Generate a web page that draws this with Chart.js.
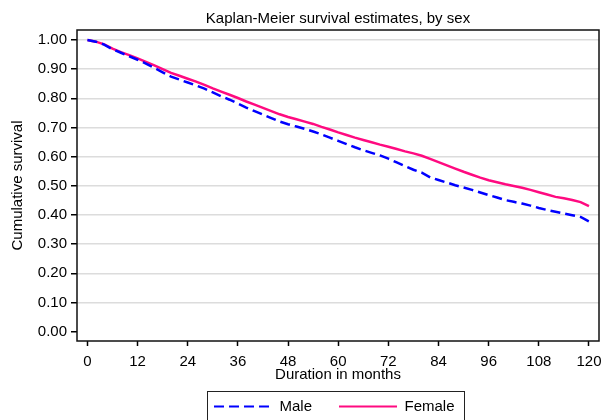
<!DOCTYPE html>
<html>
<head>
<meta charset="utf-8">
<script src="https://cdn.jsdelivr.net/npm/chart.js@4/dist/chart.umd.min.js"></script>
<style>
html,body{margin:0;padding:0;overflow:hidden;background:#fff}
#wrap{width:615px;height:420px}
</style>
</head>
<body>
<div id="wrap"><canvas id="c" width="615" height="420"></canvas></div>
<script>
// Duration (months) at which survival was read
const months = [0,2,4,6,8,10,12,14,16,18,20,22,24,26,28,30,32,34,36,38,40,
  42,44,46,48,50,52,54,56,58,60,62,64,66,68,70,72,74,76,78,80,
  82,84,86,88,90,92,94,96,98,100,102,104,106,108,110,112,114,116,118,120];

// Kaplan-Meier survival estimates
const male = [1.000,0.994,0.984,0.968,0.956,0.944,0.932,0.919,0.904,0.889,0.874,
  0.864,0.854,0.844,0.833,0.820,0.807,0.795,0.782,0.768,0.756,
  0.744,0.732,0.720,0.711,0.703,0.695,0.686,0.676,0.665,0.654,
  0.643,0.632,0.622,0.613,0.604,0.593,0.580,0.567,0.555,0.545,
  0.529,0.520,0.511,0.502,0.494,0.486,0.477,0.468,0.460,0.451,
  0.445,0.439,0.432,0.424,0.417,0.411,0.405,0.399,0.393,0.378];

const female = [1.000,0.994,0.985,0.970,0.958,0.948,0.937,0.925,0.913,0.900,0.887,
  0.877,0.867,0.857,0.846,0.834,0.823,0.812,0.801,0.789,0.778,
  0.767,0.756,0.745,0.736,0.728,0.720,0.712,0.702,0.693,0.683,
  0.674,0.665,0.657,0.649,0.641,0.634,0.626,0.618,0.611,0.603,
  0.592,0.581,0.570,0.559,0.548,0.538,0.528,0.519,0.512,0.505,
  0.499,0.493,0.486,0.478,0.470,0.462,0.457,0.451,0.444,0.430];

const seriesLabels = ['Male', 'Female'];
const xTicks = [0,12,24,36,48,60,72,84,96,108,120];
const yTicks = [0,0.1,0.2,0.3,0.4,0.5,0.6,0.7,0.8,0.9,1.0];

const FONT = {family: '"Liberation Sans", Arial, Helvetica, sans-serif', size: 15, weight: 'normal'};

const layoutAdjust = {
  id: 'layoutAdjust',
  afterLayout(chart) {
    const ca = chart.chartArea;
    const t = chart.titleBlock;
    if (t) { t.left = ca.left; t.right = ca.right; }
    const lg = chart.legend;
    if (lg) { lg.left = 187; lg.right = 615; lg.top = 372; lg.bottom = 420; }
  }
};

const framePlugin = {
  id: 'frame',
  afterDraw(chart) {
    const {ctx, chartArea: ca} = chart;
    ctx.save();
    ctx.strokeStyle = '#111';
    ctx.lineWidth = 1.5;
    ctx.strokeRect(ca.left, ca.top, ca.right - ca.left, ca.bottom - ca.top);
    const hb = chart.legend && chart.legend.legendHitBoxes;
    if (hb && hb.length) {
      const l = hb[0].left - 7;
      const last = hb[hb.length - 1];
      const r = last.left + last.width + 9;
      const top = hb[0].top - 8;
      ctx.lineWidth = 1;
      ctx.strokeStyle = '#222';
      ctx.strokeRect(Math.round(l) + 0.5, Math.round(top) + 0.5, Math.round(r - l), 60);
    }
    ctx.restore();
  }
};

new Chart(document.getElementById('c'), {
  type: 'line',
  data: {
    datasets: [
      {
        label: seriesLabels[0],
        data: months.map((m, i) => ({x: m, y: male[i]})),
        borderColor: '#0000ff',
        backgroundColor: '#0000ff',
        borderWidth: 2.5,
        borderDash: [10, 5],
        pointRadius: 0,
        fill: false
      },
      {
        label: seriesLabels[1],
        data: months.map((m, i) => ({x: m, y: female[i]})),
        borderColor: '#ff0a80',
        backgroundColor: '#ff0a80',
        borderWidth: 2.5,
        pointRadius: 0,
        fill: false
      }
    ]
  },
  options: {
    responsive: false,
    animation: false,
    devicePixelRatio: 1,
    layout: {padding: {left: 0, right: 16, top: 0, bottom: 0}},
    plugins: {
      title: {
        display: true,
        text: 'Kaplan-Meier survival estimates, by sex',
        color: '#000',
        font: FONT,
        padding: {top: 10, bottom: 2}
      },
      legend: {
        display: true,
        position: 'bottom',
        align: 'start',
        maxHeight: 34,
        labels: {
          usePointStyle: true,
          pointStyle: 'line',
          pointStyleWidth: 58,
          padding: 27,
          color: '#000',
          font: FONT,
          generateLabels: chart => Chart.defaults.plugins.legend.labels.generateLabels(chart).map((it, i) => {
            const ds = chart.data.datasets[i];
            return Object.assign({}, it, {
              lineDash: ds.borderDash || [],
              lineWidth: 2,
              strokeStyle: ds.borderColor,
              fillStyle: ds.borderColor,
              pointStyle: 'line'
            });
          })
        }
      },
      tooltip: {enabled: false}
    },
    scales: {
      x: {
        type: 'linear',
        min: -2.5,
        max: 122.4,
        bounds: 'data',
        afterBuildTicks: s => { s.ticks = xTicks.map(v => ({value: v})); },
        afterFit: s => { s.height = 45; },
        grid: {drawOnChartArea: false, drawTicks: true, tickLength: 5, tickColor: '#000', tickWidth: 1.5},
        border: {display: false},
        ticks: {color: '#000', font: FONT, padding: 7, maxRotation: 0, autoSkip: false, callback: v => String(v)},
        title: {display: true, text: 'Duration in months', color: '#000', font: FONT, padding: {top: 0, bottom: 2.5}}
      },
      y: {
        type: 'linear',
        min: -0.032,
        max: 1.034,
        bounds: 'data',
        afterBuildTicks: s => { s.ticks = yTicks.map(v => ({value: v})); },
        afterFit: s => { s.width = 77; },
        grid: {
          color: c => (c.tick && c.tick.value === 0) ? 'rgba(0,0,0,0)' : '#dcdcdc',
          lineWidth: 1.5,
          drawTicks: true,
          tickLength: 6,
          tickColor: '#000',
          tickWidth: 1.5
        },
        border: {display: false},
        ticks: {color: '#000', font: FONT, padding: 4, autoSkip: false, callback: v => Number(v).toFixed(2)},
        title: {display: true, text: 'Cumulative survival', color: '#000', font: FONT, padding: {top: 8.5, bottom: 0}}
      }
    }
  },
  plugins: [layoutAdjust, framePlugin]
});
</script>
</body>
</html>
